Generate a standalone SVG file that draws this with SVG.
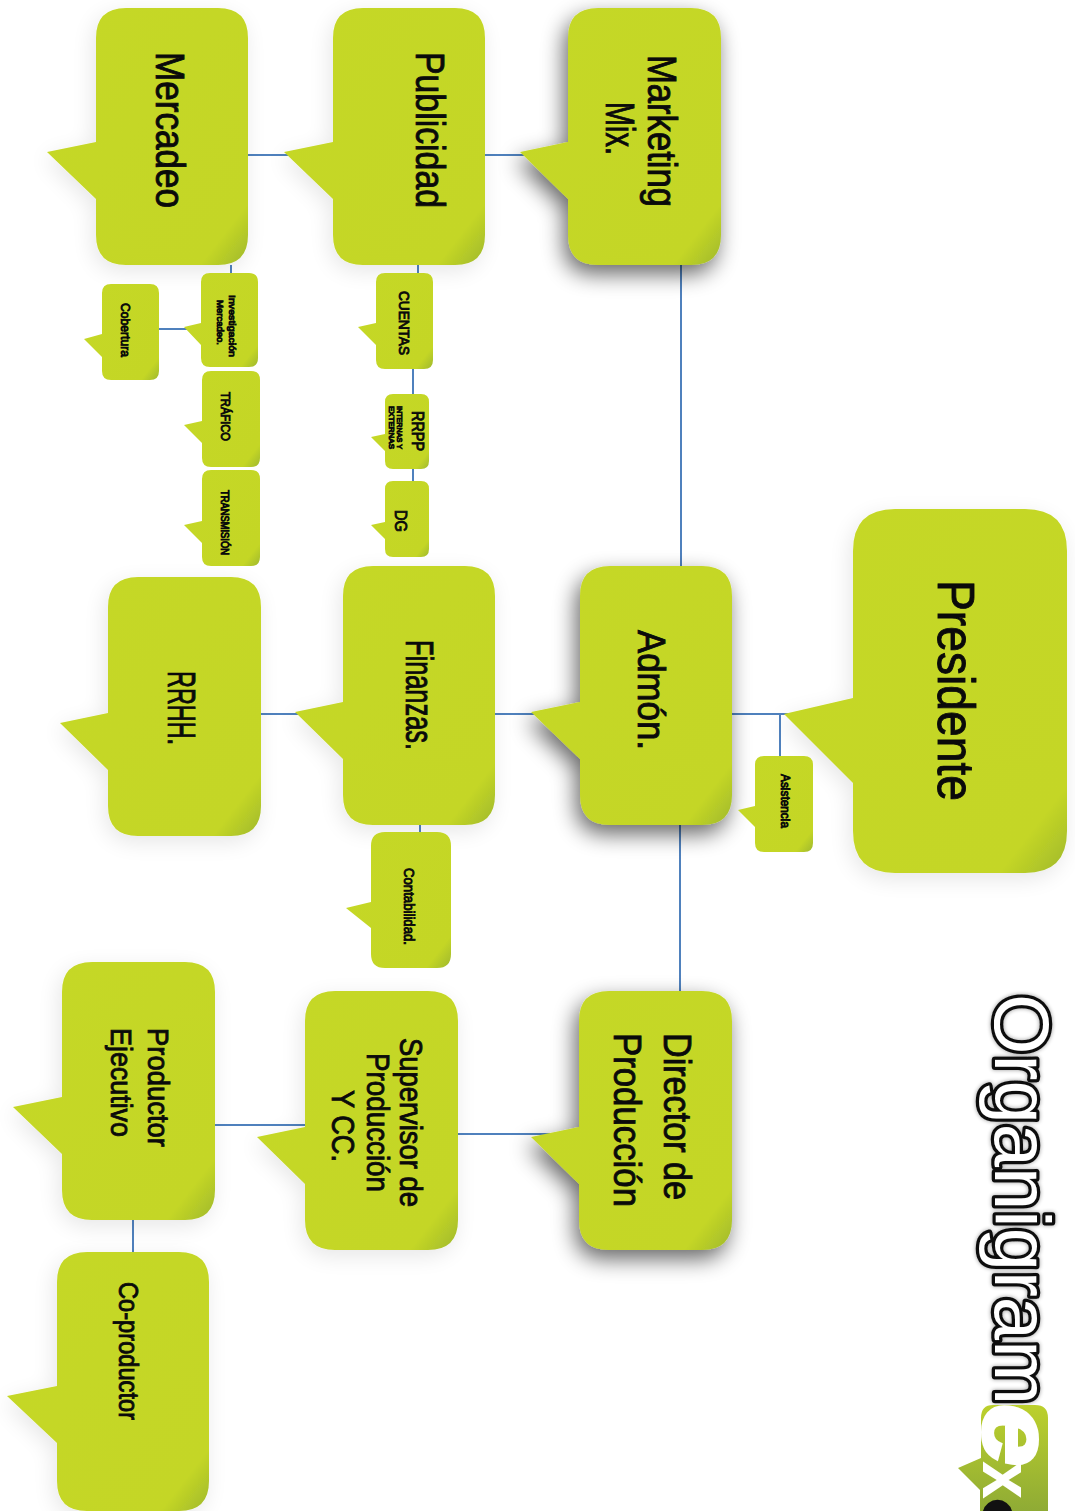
<svg xmlns="http://www.w3.org/2000/svg" width="1075" height="1511" viewBox="0 0 1075 1511">
<style>
.b{fill:url(#g)}
.t{font-family:"Liberation Sans",Arial,sans-serif;fill:#0a0a0a;stroke:#0a0a0a;stroke-width:.9}
.c{fill:none;stroke:#4f81bd;stroke-width:2}
.s1{filter:url(#sd)}
.s2{filter:url(#sl)}
</style>
<defs>
<linearGradient id="g" x1="0" y1="0" x2="1" y2="1"><stop offset="0" stop-color="#c5d826"/><stop offset=".88" stop-color="#c4d625"/><stop offset="1" stop-color="#9fb82e"/></linearGradient>
<linearGradient id="lg" x1="0" y1="0" x2="0" y2="1"><stop offset="0" stop-color="#bcd02c"/><stop offset="1" stop-color="#8fab35"/></linearGradient>
<filter id="sd" x="-30%" y="-10%" width="150%" height="130%"><feGaussianBlur in="SourceAlpha" stdDeviation="11"/><feOffset dx="-4" dy="9"/><feComponentTransfer><feFuncA type="linear" slope=".6"/></feComponentTransfer><feMerge><feMergeNode/><feMergeNode in="SourceGraphic"/></feMerge></filter>
<filter id="sl" x="-30%" y="-10%" width="150%" height="130%"><feGaussianBlur in="SourceAlpha" stdDeviation="11"/><feOffset dx="-3" dy="6"/><feComponentTransfer><feFuncA type="linear" slope=".1"/></feComponentTransfer><feMerge><feMergeNode/><feMergeNode in="SourceGraphic"/></feMerge></filter>
<filter id="ts" x="-5%" y="-20%" width="110%" height="140%"><feGaussianBlur in="SourceAlpha" stdDeviation="2"/><feOffset dx="0" dy="0"/><feComponentTransfer><feFuncA type="linear" slope=".4"/></feComponentTransfer><feMerge><feMergeNode/><feMergeNode in="SourceGraphic"/></feMerge></filter>
</defs>
<rect width="1075" height="1511" fill="#fff"/>

<g id="title">
<text transform="translate(995,994) rotate(90)" font-family="'Liberation Sans',Arial,sans-serif" font-size="78" fill="#fff" stroke="#111" stroke-width="6.5" stroke-linejoin="round" paint-order="stroke" filter="url(#ts)" textLength="411" lengthAdjust="spacingAndGlyphs">Organigram</text>
</g>
<g id="logo">
<path d="M993,1405H1035Q1048,1405 1048,1418V1511H980V1490L958,1468L981,1458V1418Q981,1405 993,1405Z" fill="url(#lg)"/>
<text transform="translate(984,1404) rotate(90)" font-family="'Liberation Sans',Arial,sans-serif" font-size="98" font-weight="bold" font-style="italic" fill="#fff" stroke="#fff" stroke-width="4" textLength="62" lengthAdjust="spacingAndGlyphs">e</text>
<text transform="translate(983,1461) rotate(90)" font-family="'Liberation Sans',Arial,sans-serif" font-size="72" font-weight="bold" fill="#fff" textLength="38" lengthAdjust="spacingAndGlyphs">x</text>
<path d="M1012,1511A15,15 0 0 0 983,1511Z" fill="#111"/>
</g>

<g id="connectors" class="c">
<path d="M248,155H333"/><path d="M485,155H568"/>
<path d="M681,265V566"/><path d="M732,714H853"/><path d="M780,714V756"/>
<path d="M680,825V991"/><path d="M495,714H580"/><path d="M261,714H343"/>
<path d="M420,825V832"/><path d="M231,265V273"/><path d="M159,329H201"/>
<path d="M418,265V273"/><path d="M413,369V394"/><path d="M413,469V481"/>
<path d="M458,1134H579"/><path d="M215,1125H305"/><path d="M133,1220V1252"/>
</g>

<g id="mercadeo"><path class="b s2" d="M126,8H218Q248,8 248,38V235Q248,265 218,265H126Q96,265 96,235V199L47,152L96,142V38Q96,8 126,8Z"/><text class="t" font-size="40" transform="translate(156,52) rotate(90)" textLength="156" lengthAdjust="spacingAndGlyphs">Mercadeo</text></g>
<g id="publicidad"><path class="b s2" d="M363,8H455Q485,8 485,38V235Q485,265 455,265H363Q333,265 333,235V199L284,152L333,142V38Q333,8 363,8Z"/><text class="t" font-size="40" transform="translate(416,52) rotate(90)" textLength="156" lengthAdjust="spacingAndGlyphs">Publicidad</text></g>
<g id="marketing"><path class="b s1" d="M598,8H691Q721,8 721,38V235Q721,265 691,265H598Q568,265 568,235V199L520,152L568,142V38Q568,8 598,8Z"/><text class="t" font-size="40" transform="translate(648,55) rotate(90)" textLength="152" lengthAdjust="spacingAndGlyphs">Marketing</text><text class="t" font-size="40" transform="translate(606,102) rotate(90)" textLength="53" lengthAdjust="spacingAndGlyphs">Mix.</text></g>
<g id="presidente"><path class="b s2" d="M895,509H1025Q1067,509 1067,551V831Q1067,873 1025,873H895Q853,873 853,831V783L784,714L853,698V551Q853,509 895,509Z"/><text class="t" font-size="52" stroke-width="1.2" transform="translate(938,580) rotate(90)" textLength="221" lengthAdjust="spacingAndGlyphs">Presidente</text></g>
<g id="admon"><path class="b s1" d="M610,566H702Q732,566 732,596V795Q732,825 702,825H610Q580,825 580,795V759L531,712L580,702V596Q580,566 610,566Z"/><text class="t" font-size="38" transform="translate(638,630) rotate(90)" textLength="120" lengthAdjust="spacingAndGlyphs">Admón.</text></g>
<g id="finanzas"><path class="b s2" d="M373,566H465Q495,566 495,596V795Q495,825 465,825H373Q343,825 343,795V759L295,712L343,702V596Q343,566 373,566Z"/><text class="t" font-size="38" transform="translate(406,640) rotate(90)" textLength="110" lengthAdjust="spacingAndGlyphs">Finanzas.</text></g>
<g id="rrhh"><path class="b s2" d="M138,577H231Q261,577 261,607V806Q261,836 231,836H138Q108,836 108,806V770L60,723L108,713V607Q108,577 138,577Z"/><text class="t" font-size="38" transform="translate(168,671) rotate(90)" textLength="74" lengthAdjust="spacingAndGlyphs">RRHH.</text></g>
<g id="director"><path class="b s1" d="M609,991H702Q732,991 732,1021V1220Q732,1250 702,1250H609Q579,1250 579,1220V1184L531,1137L579,1127V1021Q579,991 609,991Z"/><text class="t" font-size="38" transform="translate(664,1033) rotate(90)" textLength="167" lengthAdjust="spacingAndGlyphs">Director de</text><text class="t" font-size="38" transform="translate(614,1033) rotate(90)" textLength="174" lengthAdjust="spacingAndGlyphs">Producción</text></g>
<g id="supervisor"><path class="b s2" d="M335,991H428Q458,991 458,1021V1220Q458,1250 428,1250H335Q305,1250 305,1220V1184L257,1137L305,1127V1021Q305,991 335,991Z"/><text class="t" font-size="32" transform="translate(400,1038) rotate(90)" textLength="169" lengthAdjust="spacingAndGlyphs">Supervisor de</text><text class="t" font-size="32" transform="translate(367,1053) rotate(90)" textLength="139" lengthAdjust="spacingAndGlyphs">Producción</text><text class="t" font-size="32" transform="translate(332,1090) rotate(90)" textLength="72" lengthAdjust="spacingAndGlyphs">Y CC.</text></g>
<g id="productor"><path class="b s2" d="M92,962H185Q215,962 215,992V1190Q215,1220 185,1220H92Q62,1220 62,1190V1154L13,1107L62,1097V992Q62,962 92,962Z"/><text class="t" font-size="30" transform="translate(148,1028) rotate(90)" textLength="119" lengthAdjust="spacingAndGlyphs">Productor</text><text class="t" font-size="30" transform="translate(111,1028) rotate(90)" textLength="109" lengthAdjust="spacingAndGlyphs">Ejecutivo</text></g>
<g id="coproductor"><path class="b s2" d="M87,1252H179Q209,1252 209,1282V1481Q209,1511 179,1511H87Q57,1511 57,1481V1443L7,1396L57,1386V1282Q57,1252 87,1252Z"/><text class="t" font-size="28" transform="translate(119,1282) rotate(90)" textLength="138" lengthAdjust="spacingAndGlyphs">Co-productor</text></g>

<g id="investigacion"><path class="b" d="M210,273H249Q258,273 258,282V358Q258,367 249,367H210Q201,367 201,358V345L184,327L201,323V282Q201,273 210,273Z"/><text class="t" font-size="9" stroke-width=".25" transform="translate(229,295) rotate(90)" textLength="62" lengthAdjust="spacingAndGlyphs">Investigación</text><text class="t" font-size="9" stroke-width=".25" transform="translate(217,300) rotate(90)" textLength="45" lengthAdjust="spacingAndGlyphs">Mercadeo.</text></g>
<g id="cobertura"><path class="b" d="M111,284H150Q159,284 159,293V371Q159,380 150,380H111Q102,380 102,371V357L84,339L102,334V293Q102,284 111,284Z"/><text class="t" font-size="13" stroke-width=".3" transform="translate(121,303) rotate(90)" textLength="54" lengthAdjust="spacingAndGlyphs">Cobertura</text></g>
<g id="trafico"><path class="b" d="M211,371H251Q260,371 260,380V458Q260,467 251,467H211Q202,467 202,458V443L184,425L202,421V380Q202,371 211,371Z"/><text class="t" font-size="12" stroke-width=".3" transform="translate(221,392) rotate(90)" textLength="49" lengthAdjust="spacingAndGlyphs">TRÁFICO</text></g>
<g id="transmision"><path class="b" d="M211,470H251Q260,470 260,479V557Q260,566 251,566H211Q202,566 202,557V543L184,525L202,521V479Q202,470 211,470Z"/><text class="t" font-size="10" stroke-width=".3" transform="translate(221,490) rotate(90)" textLength="65" lengthAdjust="spacingAndGlyphs">TRANSMISIÓN</text></g>
<g id="cuentas"><path class="b" d="M385,273H424Q433,273 433,282V360Q433,369 424,369H385Q376,369 376,360V345L358,327L376,323V282Q376,273 385,273Z"/><text class="t" font-size="15" stroke-width=".4" transform="translate(399,291) rotate(90)" textLength="64" lengthAdjust="spacingAndGlyphs">CUENTAS</text></g>
<g id="rrpp"><path class="b" d="M393,394H421Q429,394 429,402V461Q429,469 421,469H393Q385,469 385,461V451L371,437L385,434V402Q385,394 393,394Z"/><text class="t" font-size="16" stroke-width=".4" transform="translate(412,411) rotate(90)" textLength="40" lengthAdjust="spacingAndGlyphs">RRPP</text><text class="t" font-size="7" stroke-width=".2" transform="translate(397,406) rotate(90)" textLength="43" lengthAdjust="spacingAndGlyphs">INTERNAS Y</text><text class="t" font-size="7" stroke-width=".2" transform="translate(389,406) rotate(90)" textLength="43" lengthAdjust="spacingAndGlyphs">EXTERNAS</text></g>
<g id="dg"><path class="b" d="M393,481H421Q429,481 429,489V549Q429,557 421,557H393Q385,557 385,549V539L371,525L385,522V489Q385,481 393,481Z"/><text class="t" font-size="17" stroke-width=".4" transform="translate(395,510) rotate(90)" textLength="22" lengthAdjust="spacingAndGlyphs">DG</text></g>
<g id="contabilidad"><path class="b" d="M385,832H437Q451,832 451,846V954Q451,968 437,968H385Q371,968 371,954V928L346,908L371,902V846Q371,832 385,832Z"/><text class="t" font-size="14" stroke-width=".3" transform="translate(404,868) rotate(90)" textLength="77" lengthAdjust="spacingAndGlyphs">Contabilidad.</text></g>
<g id="asistencia"><path class="b" d="M764,756H804Q813,756 813,765V843Q813,852 804,852H764Q755,852 755,843V827L738,810L755,806V765Q755,756 764,756Z"/><text class="t" font-size="12" stroke-width=".3" transform="translate(781,774) rotate(90)" textLength="54" lengthAdjust="spacingAndGlyphs">Asistencia</text></g>
</svg>
